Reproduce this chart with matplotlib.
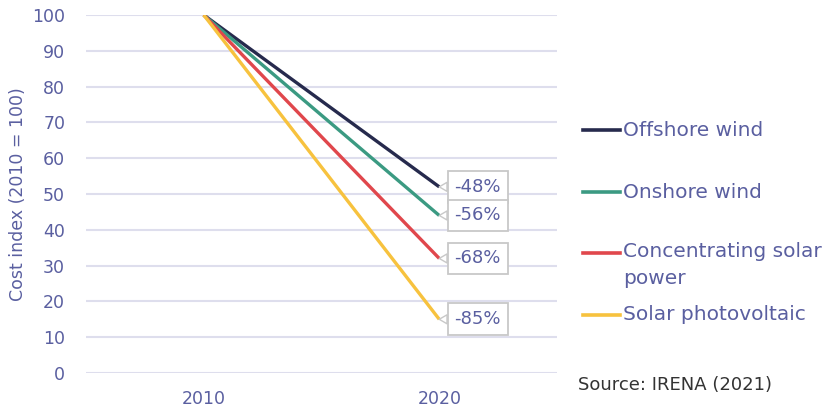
import matplotlib
matplotlib.use("Agg")
import matplotlib.pyplot as plt
from matplotlib.lines import Line2D

# --- DATOS ---
years = ["2010", "2020"]
series = ["Offshore wind", "Onshore wind", "Concentrating solar\npower", "Solar photovoltaic"]
start_vals = [100, 100, 100, 100]
end_vals = [52, 44, 32, 15]
colors = ["#262a4d", "#3b9a82", "#e0474c", "#f7c23e"]

TXT = "#5a5fa0"
GRID = "#dedeed"
plt.rcParams["font.family"] = ["DejaVu Sans"]

fig = plt.figure(figsize=(8.35, 4.08), dpi=100)
ax = fig.add_axes([86 / 835, 1 - 373 / 408, (557 - 86) / 835, (373 - 15) / 408])

x = list(range(len(years)))
for s, v0, v1, c in zip(series, start_vals, end_vals, colors):
    ax.plot(x, [v0, v1], color=c, lw=2.4, solid_capstyle="butt", zorder=3)
    pct = round((v1 - v0) / v0 * 100)
    ax.annotate(f"{pct}%", xy=(x[-1], v1), xytext=(11, 0), textcoords="offset points",
                ha="left", va="center", fontsize=13, color=TXT, zorder=5,
                bbox=dict(boxstyle="square,pad=0.38", fc="white", ec="#c8c8c8", lw=1.3),
                arrowprops=dict(arrowstyle="wedge,tail_width=0.5", fc="white", ec="#c8c8c8",
                                lw=1.0, shrinkA=0, shrinkB=0))

ax.set_xlim(-0.5, len(years) - 0.5)
ax.set_ylim(0, 100)
ax.set_yticks(range(0, 101, 10))
ax.set_xticks(x)
ax.set_xticklabels(years)
ax.grid(axis="y", color=GRID, lw=1.5)
ax.set_axisbelow(True)
for sp in ax.spines.values():
    sp.set_visible(False)
ax.tick_params(length=0, colors=TXT, labelsize=12.5)
ax.tick_params(axis="y", pad=15)
ax.tick_params(axis="x", pad=12)
ax.set_ylabel("Cost index (2010 = 100)", color=TXT, fontsize=12.5, labelpad=4)

# leyenda manual
leg_y = [130, 192, 253, 315]
for s, c, yy in zip(series, colors, leg_y):
    yf = 1 - yy / 408
    fig.add_artist(Line2D([583 / 835, 620 / 835], [yf, yf], color=c, lw=2.6,
                          transform=fig.transFigure))
    if "\n" in s:
        fig.text(623 / 835, 1 - (yy - 11) / 408, s, color=TXT, fontsize=14.5,
                 va="top", ha="left", linespacing=1.5)
    else:
        fig.text(623 / 835, yf, s, color=TXT, fontsize=14.5, va="center", ha="left")

fig.text(578 / 835, 1 - 385 / 408, "Source: IRENA (2021)", color="#333333",
         fontsize=13, va="center", ha="left")

fig.savefig("out.png", dpi=100)
